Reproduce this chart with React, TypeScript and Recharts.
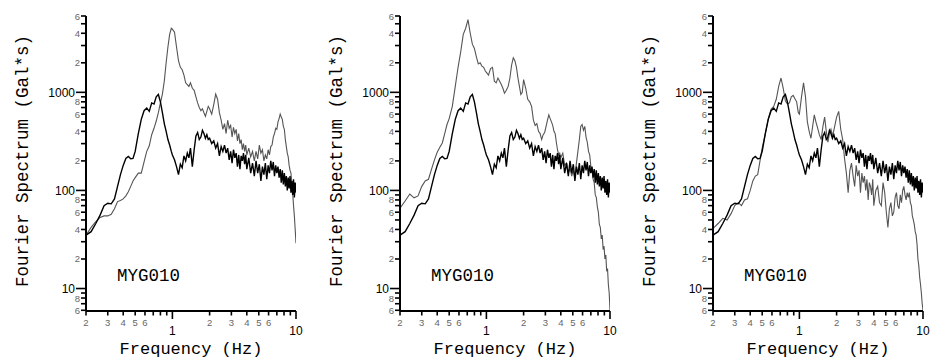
import React from "react";
import { LineChart, Line, XAxis, YAxis } from "recharts";

// frequency grid (Hz)
const freqs = [
  0.2, 0.22, 0.24, 0.26, 0.28, 0.3, 0.32, 0.34, 0.36, 0.38, 0.4, 0.42, 0.44, 0.46, 0.48, 0.5,
  0.53, 0.56, 0.59, 0.62, 0.65, 0.68, 0.71, 0.74, 0.77, 0.8, 0.83, 0.86, 0.89, 0.92, 0.95, 0.98,
  1.0, 1.04, 1.08, 1.12, 1.16, 1.2, 1.24, 1.28, 1.32, 1.36, 1.4,
  1.45, 1.5, 1.55, 1.6, 1.65, 1.7, 1.75, 1.8, 1.85, 1.9, 1.95,
  2.0, 2.08, 2.16, 2.24, 2.32, 2.4, 2.48, 2.56, 2.64, 2.72, 2.8, 2.88, 2.96, 3.04, 3.12, 3.2,
  3.28, 3.36, 3.44, 3.52, 3.6, 3.68, 3.76, 3.84, 3.92,
  4.0, 4.15, 4.3, 4.45, 4.6, 4.75, 4.9, 5.05, 5.2, 5.35, 5.5, 5.65, 5.8, 5.95, 6.1, 6.25, 6.4,
  6.55, 6.7, 6.85, 7.0, 7.15, 7.3, 7.45, 7.6, 7.75, 7.9, 8.05, 8.2, 8.35, 8.5, 8.65, 8.8, 8.95,
  9.1, 9.25, 9.4, 9.55, 9.7, 9.85, 10.0,
];

// observed spectrum (black, same in every panel)
const observed = [
  35, 38, 46, 56, 70, 74, 73, 82, 110, 145, 180, 212, 222, 210, 212, 250,
  380, 530, 650, 690, 640, 780, 760, 900, 950, 800, 620, 480, 400, 330, 290, 250,
  230, 205, 175, 145, 185, 170, 225, 200, 240, 215, 270,
  175, 260, 360, 390, 330, 350, 410, 380, 340, 370, 330,
  340, 300, 320, 270, 300, 225, 280, 250, 290, 240, 270, 205, 250, 190, 260, 215,
  240, 175, 230, 165, 225, 200, 240, 185, 230,
  165, 215, 150, 190, 140, 200, 150, 185, 125, 175, 145, 190, 130, 180, 150, 200, 160,
  195, 140, 180, 150, 175, 135, 165, 120, 160, 115, 150, 110, 140, 100, 135, 105, 140,
  95, 125, 90, 130, 85, 120, 95,
];

// synthetic spectra (grey), one per panel
const synth1 = [
  35, 42, 48, 53, 55, 55, 57, 65, 77, 79, 82, 88, 97, 110, 125, 135,
  150, 150, 195, 250, 285, 370, 430, 510, 620, 780, 960, 1300, 2000, 2900, 3900, 4500,
  4400, 4100, 2900, 2100, 1800, 1700, 1500, 1250, 1200, 1150, 1250,
  1100, 1050, 900, 780, 700, 650, 680, 620, 570, 640, 720,
  680, 600, 750, 960, 850, 620, 520, 420, 480, 380, 520, 430, 460, 350, 440, 380,
  420, 320, 380, 300, 330, 260, 300, 250, 290,
  230, 270, 220, 250, 200, 250, 210, 290, 240, 260, 200, 230, 210, 260, 230, 280, 290,
  350, 380, 430, 420, 500, 540, 600, 560, 530, 450, 420, 330, 280, 240, 220, 180, 160,
  150, 120, 95, 70, 55, 40, 29,
];

const synth2 = [
  66, 78, 92, 84, 88, 110, 125, 130, 165, 205, 245, 275, 305, 380, 470, 540,
  720, 1150, 1800, 2600, 3900, 4500, 5500, 4000, 3100, 2800, 2300, 1950, 2000, 1850, 1800, 1650,
  1600, 1500, 1750, 1800, 1300, 1250, 1400, 1300, 1200, 1100, 980,
  1050, 1150, 1400, 1900, 2250, 2100, 1800, 1400, 1150, 950, 1000,
  1350, 1100, 850, 800, 720, 520, 460, 480, 400, 380, 330, 370, 390, 450, 520, 590,
  540, 500, 460, 400, 380, 310, 260, 230, 240,
  215, 240, 180, 190, 150, 170, 140, 160, 135, 190, 250, 330, 450, 470, 410, 450, 350,
  310, 250, 230, 175, 165, 130, 120, 90, 85, 68, 60, 45, 42, 32, 35, 25, 27,
  20, 22, 15, 16, 11, 9, 6,
];

const synth3 = [
  41, 46, 52, 50, 58, 70, 75, 70, 80, 82, 100, 125, 140, 145, 200, 270,
  380, 540, 670, 720, 850, 1150, 1400, 1100, 820, 760, 780, 900, 930, 860, 800, 620,
  600, 900, 1250, 900, 500, 400, 340, 450, 590, 500, 440,
  370, 330, 450, 560, 400, 310, 380, 420, 360, 410, 480,
  560, 640, 420, 330, 210, 150, 95, 160, 190, 140, 110, 180, 140, 160, 95, 150,
  120, 140, 100, 130, 80, 120, 110, 90, 130,
  70, 100, 110, 75, 70, 120, 95, 60, 42, 65, 75, 55, 60, 85, 95, 70, 65,
  90, 75, 100, 110, 90, 80, 95, 85, 95, 75, 70, 55, 50, 45, 38, 35, 28,
  20, 17, 13, 11, 9, 7, 6,
];

const xTicks = [0.2, 0.3, 0.4, 0.5, 0.6, 0.7, 0.8, 0.9, 1, 2, 3, 4, 5, 6, 7, 8, 9, 10];
const yTicks = [
  6, 7, 8, 9, 10, 20, 30, 40, 50, 60, 70, 80, 90, 100, 200, 300, 400, 500, 600, 700, 800, 900,
  1000, 2000, 3000, 4000, 5000, 6000,
];
const xMinorLabelled = [2, 3, 4, 5, 6];
const yMinorLabelled = [2, 4, 6, 8];
const stationName = "MYG010";

const rows = freqs.map((f, i) => ({
  f,
  obs: observed[i],
  s1: synth1[i],
  s2: synth2[i],
  s3: synth3[i],
}));

const MONO = "'Liberation Mono', 'DejaVu Sans Mono', monospace";
const SANS = "'Liberation Sans', Arial, sans-serif";

function isDecade(v: number) {
  const l = Math.log10(v);
  return Math.abs(l - Math.round(l)) < 1e-6;
}

function leadDigit(v: number) {
  return Math.round(v / Math.pow(10, Math.floor(Math.log10(v) + 1e-9)));
}

function YTick(props: any) {
  const { x, y, payload } = props;
  const v = payload.value;
  const dec = isDecade(v);
  const d = leadDigit(v);
  return (
    <g>
      <line x1={x - (dec ? 10 : 5)} x2={x} y1={y} y2={y} stroke="#000" strokeWidth={1.6} />
      {dec ? (
        <text x={x - 11} y={y + 4.5} textAnchor="end" fontSize={12} fontFamily={SANS} fill="#000">
          {v}
        </text>
      ) : yMinorLabelled.includes(d) ? (
        <text x={x - 6} y={y + 3.5} textAnchor="end" fontSize={9.5} fontFamily={SANS} fill="#666">
          {d}
        </text>
      ) : null}
    </g>
  );
}

function XTick(props: any) {
  const { x, y, payload } = props;
  const v = payload.value;
  const dec = isDecade(v);
  const d = leadDigit(v);
  return (
    <g>
      <line x1={x} x2={x} y1={y} y2={y + (dec ? 8 : 4.5)} stroke="#000" strokeWidth={1.6} />
      {dec ? (
        <text x={x} y={y + 24} textAnchor="middle" fontSize={12} fontFamily={SANS} fill="#000">
          {v}
        </text>
      ) : xMinorLabelled.includes(d) ? (
        <text x={x} y={y + 14.5} textAnchor="middle" fontSize={9.5} fontFamily={SANS} fill="#666">
          {d}
        </text>
      ) : null}
    </g>
  );
}

function Panel({ left, width, synthKey }: { left: number; width: number; synthKey: string }) {
  return (
    <div style={{ position: "absolute", left, top: 0 }}>
      <LineChart
        width={width}
        height={361}
        data={rows}
        margin={{ top: 16, right: width - 86 - 210, bottom: 0, left: 0 }}
      >
        <XAxis
          dataKey="f"
          type="number"
          scale="log"
          domain={[0.2, 10]}
          allowDataOverflow
          ticks={xTicks}
          interval={0}
          height={50}
          tickSize={0}
          tickMargin={0}
          tickLine={false}
          axisLine={{ stroke: "#000", strokeWidth: 2 }}
          tick={(p: any) => <XTick {...p} />}
        />
        <YAxis
          type="number"
          scale="log"
          domain={[5.9, 6000]}
          allowDataOverflow
          ticks={yTicks}
          interval={0}
          width={86}
          tickSize={0}
          tickMargin={0}
          tickLine={false}
          axisLine={{ stroke: "#000", strokeWidth: 2 }}
          tick={(p: any) => <YTick {...p} />}
        />
        <Line
          type="linear"
          dataKey={synthKey}
          stroke="#555"
          strokeWidth={1.1}
          dot={false}
          isAnimationActive={false}
        />
        <Line
          type="linear"
          dataKey="obs"
          stroke="#000"
          strokeWidth={1.4}
          dot={false}
          isAnimationActive={false}
        />
      </LineChart>
      <div
        style={{
          position: "absolute",
          left: 24,
          top: 161,
          transform: "translate(-50%, -50%) rotate(-90deg)",
          whiteSpace: "pre",
          fontFamily: MONO,
          fontSize: 17.5,
          lineHeight: 1,
          color: "#000",
        }}
      >
        Fourier Spectrum (Gal*s)
      </div>
      <div
        style={{
          position: "absolute",
          left: 191,
          top: 349,
          transform: "translate(-50%, -50%)",
          whiteSpace: "pre",
          fontFamily: MONO,
          fontSize: 17,
          lineHeight: 1,
          color: "#000",
        }}
      >
        Frequency (Hz)
      </div>
      <div
        style={{
          position: "absolute",
          left: 117,
          top: 268,
          whiteSpace: "pre",
          fontFamily: MONO,
          fontSize: 17.5,
          lineHeight: 1,
          color: "#000",
        }}
      >
        {stationName}
      </div>
    </div>
  );
}

export default function App() {
  return (
    <div
      style={{
        position: "absolute",
        left: 0,
        top: 0,
        width: 931,
        height: 361,
        overflow: "hidden",
        background: "#fff",
      }}
    >
      <Panel left={0} width={310} synthKey="s1" />
      <Panel left={314} width={310} synthKey="s2" />
      <Panel left={627} width={304} synthKey="s3" />
    </div>
  );
}
